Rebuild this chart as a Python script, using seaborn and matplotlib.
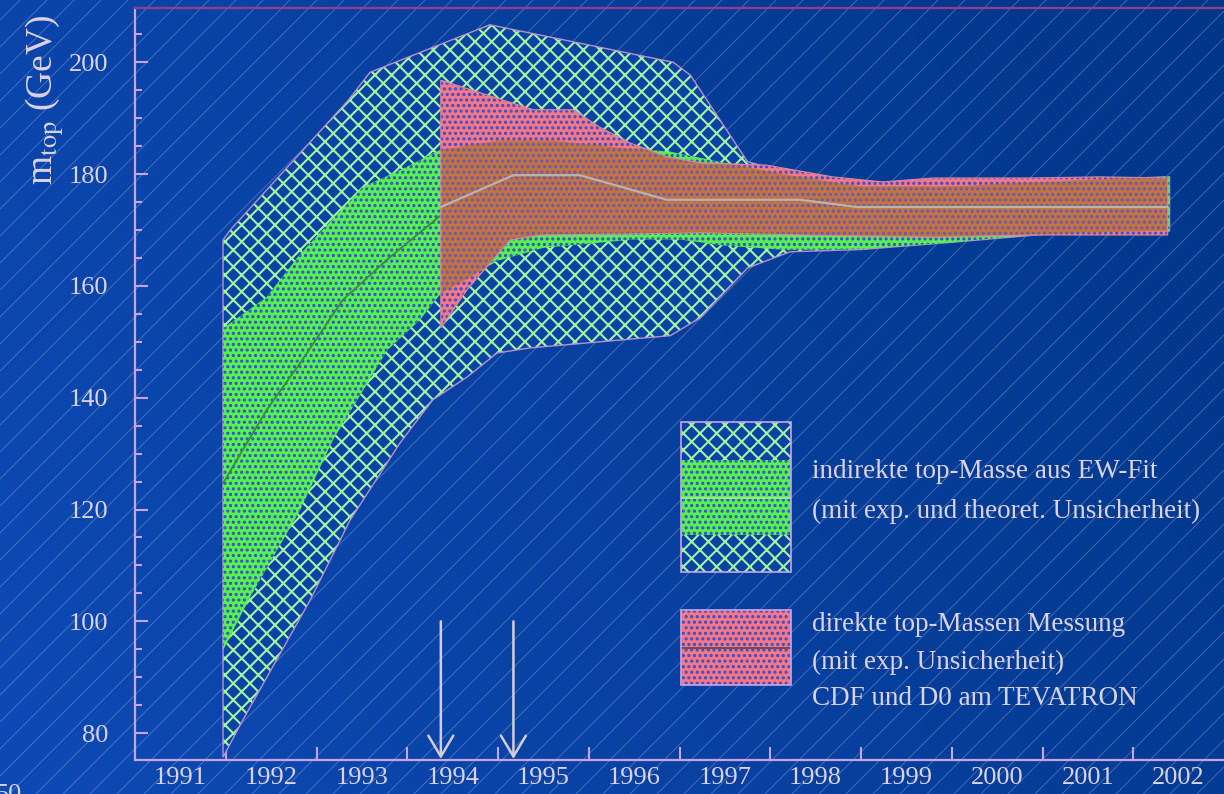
import matplotlib
matplotlib.use('Agg')
import matplotlib.pyplot as plt
from matplotlib.collections import LineCollection
from matplotlib.patches import Rectangle
from matplotlib.ticker import MultipleLocator
import seaborn as sns
import numpy as np

# ---------------- data ----------------
years = list(range(1991, 2003))

# indirect top mass from EW fit, exp + theory uncertainty (outer, cross-hatched)
ew_outer_up_x = [1991.97, 1992.05, 1993.35, 1993.59, 1994.91, 1996.93, 1997.12, 1997.75, 1998.5, 1999.5, 2000.5, 2001.5, 2002.4]
ew_outer_up_y = [168.2, 170.0, 193.2, 198.2, 206.7, 200.0, 197.7, 182.2, 179.0, 178.3, 178.5, 179.0, 179.5]
ew_outer_lo_x = [1991.97, 1992.19, 1992.93, 1993.37, 1993.92, 1994.28, 1994.66, 1994.99, 1995.35, 1996.90, 1997.23, 1997.75, 1998.22, 1999.0, 2000.0, 2001.0, 2002.4]
ew_outer_lo_y = [75.7, 82.4, 103.8, 118.1, 131.9, 139.6, 143.7, 148.0, 148.9, 151.1, 154.3, 163.2, 166.1, 166.5, 167.8, 169.2, 169.8]

# EW fit, exp. uncertainty only (inner, dense green)
ew_inner_up_x = [1991.97, 1992.45, 1992.82, 1993.51, 1993.92, 1994.36, 1995.0, 1995.6, 1996.3, 1996.9, 1997.5, 1998.2, 1999.0, 2000.0, 2001.0, 2002.4]
ew_inner_up_y = [152.4, 158.0, 165.7, 177.7, 180.7, 184.3, 186.0, 186.0, 184.8, 184.0, 182.0, 179.8, 177.8, 177.8, 178.6, 179.6]
ew_inner_lo_x = [1991.97, 1992.25, 1992.82, 1993.18, 1993.45, 1993.78, 1994.14, 1994.36, 1995.0, 1995.5, 1996.5, 1997.0, 1997.5, 1998.2, 1999.0, 2000.0, 2001.0, 2002.4]
ew_inner_lo_y = [94.8, 103.8, 119.9, 132.4, 139.6, 148.5, 153.9, 158.5, 164.5, 166.8, 168.3, 168.3, 167.2, 166.4, 166.6, 167.8, 169.3, 169.9]

ew_mid_x = [1991.97, 1992.45, 1992.82, 1993.29, 1993.8, 1994.36, 1995.5, 1996.5, 1997.5, 1998.5, 2000.0, 2002.4]
ew_mid_y = [124.7, 137.8, 146.2, 157.5, 165.0, 172.5, 176.5, 176.5, 175.5, 174.5, 174.3, 174.2]

# direct measurement CDF / D0
cdf_up_x = [1994.37, 1995.39, 1995.83, 1996.12, 1996.45, 1996.86, 1997.23, 1997.96, 1998.69, 1999.24, 1999.79, 2000.9, 2001.63, 2002.38]
cdf_up_y = [196.8, 191.5, 191.5, 188.4, 185.6, 183.1, 182.0, 181.6, 179.5, 178.6, 179.3, 179.3, 179.5, 179.3]
cdf_lo_x = [1994.37, 1994.66, 1995.13, 1995.46, 1996.5, 1997.23, 1998.33, 1999.79, 2000.9, 2002.38]
cdf_lo_y = [152.5, 159.3, 168.2, 169.1, 169.3, 169.5, 169.1, 168.7, 169.1, 169.1]
cdf_mid_x = [1994.37, 1995.17, 1995.9, 1996.86, 1997.23, 1998.33, 1998.96, 2002.38]
cdf_mid_y = [174.1, 179.8, 179.8, 175.4, 175.4, 175.4, 174.1, 174.1]

arrow_years = [1994.37, 1995.17]
arrow_top = 100

legend_lines = ['indirekte top-Masse aus EW-Fit', '(mit exp. und theoret. Unsicherheit)',
                'direkte top-Massen Messung', '(mit exp. Unsicherheit)', 'CDF und D0 am TEVATRON']

# ---------------- style ----------------
sns.set_theme(style='white')
plt.rcParams['font.family'] = ['Liberation Serif', 'DejaVu Serif']
plt.rcParams['mathtext.fontset'] = 'stix'
plt.rcParams['hatch.linewidth'] = 1.5

txt = '#dcd2e2'
lav = '#c8a4e6'
blue = '#0b42a6'
hatch_green = '#a4f2a0'
green = '#56f252'
pink = '#f47888'
orange = '#c27444'
dots = '#3a4cc4'

fig = plt.figure(figsize=(12.24, 7.94), dpi=100)

# slide background: gradient + thin diagonal lines
bg = fig.add_axes([0, 0, 1, 1], zorder=-5)
gx = np.linspace(0, 1, 256)
gy = np.linspace(0, 1, 128)
GX, GY = np.meshgrid(gx, gy)
c0 = np.array([0x0e, 0x4a, 0xb6]) / 255
c1 = np.array([0x00, 0x36, 0x88]) / 255
t = np.clip(0.75 * GX + 0.25 * (1 - GY), 0, 1)[..., None]
bg.imshow(c0 * (1 - t) + c1 * t, extent=[0, 1224, 0, 794], aspect='auto', origin='upper')
segs = [[(0, c), (1224, c + 1224)] for c in np.arange(-1224, 794, 27)]
bg.add_collection(LineCollection(segs, colors='#a8bde8', linewidths=0.6, alpha=0.42))
bg.set_xlim(0, 1224)
bg.set_ylim(0, 794)
bg.axis('off')

ax = fig.add_axes([135 / 1224, 34 / 794, 1089 / 1224, 752 / 794])
ax.set_facecolor('none')


def band(xu, yu, xl, yl, **kw):
    px = np.r_[xu, xl[::-1]]
    py = np.r_[yu, yl[::-1]]
    return ax.fill(px, py, **kw)[0]


band(ew_outer_up_x, ew_outer_up_y, ew_outer_lo_x, ew_outer_lo_y,
     facecolor=blue, edgecolor=hatch_green, hatch='xx', lw=0, zorder=2)
band(ew_outer_up_x, ew_outer_up_y, ew_outer_lo_x, ew_outer_lo_y,
     facecolor='none', edgecolor='#b890d0', lw=1.0, zorder=2.1)
band(ew_inner_up_x, ew_inner_up_y, ew_inner_lo_x, ew_inner_lo_y,
     facecolor=green, edgecolor=dots, hatch='...', lw=0, zorder=3)
sns.lineplot(x=ew_mid_x, y=ew_mid_y, ax=ax, color='#3a8a44', lw=1.3, sort=False, estimator=None, zorder=3.5)

red = band(cdf_up_x, cdf_up_y, cdf_lo_x, cdf_lo_y,
           facecolor=pink, edgecolor=dots, hatch='...', lw=0, zorder=4)
overlap = band(ew_inner_up_x, ew_inner_up_y, ew_inner_lo_x, ew_inner_lo_y,
               facecolor=orange, edgecolor='#6a58a8', hatch='...', lw=0, zorder=4.5)
overlap.set_clip_path(red)
band(cdf_up_x, cdf_up_y, cdf_lo_x, cdf_lo_y,
     facecolor='none', edgecolor='#d08aa8', lw=0.8, zorder=4.6)
sns.lineplot(x=cdf_mid_x, y=cdf_mid_y, ax=ax, color='#b8b4b0', lw=1.6, sort=False, estimator=None, zorder=5)

ax.set_xlim(1991, 2003)
ax.set_ylim(75.2, 209.7)

for xa in arrow_years:
    ax.annotate('', xy=(xa, 75.4), xytext=(xa, arrow_top),
                arrowprops=dict(arrowstyle='->,head_length=0.5,head_width=0.3', mutation_scale=30,
                                color='#d4ccd6', lw=1.8, shrinkA=0, shrinkB=0), zorder=6)

# axes / ticks
ax.set_axisbelow(True)
for s in ['left', 'bottom']:
    ax.spines[s].set_color(lav)
    ax.spines[s].set_linewidth(1.6)
ax.spines['top'].set_color('#9a3a8e')
ax.spines['top'].set_linewidth(1.6)
ax.spines['right'].set_visible(False)

ax.set_xticks([y + 0.5 for y in years])
ax.set_xticklabels([str(y) for y in years])
ax.set_xticks(years[1:], minor=True)
ax.set_yticks(range(80, 201, 20))
ax.yaxis.set_minor_locator(MultipleLocator(5))
ax.tick_params(axis='x', which='major', length=0, pad=5, labelsize=19, labelcolor=txt, bottom=True)
ax.tick_params(axis='x', which='minor', length=9.5, width=1.5, direction='in', color=lav, bottom=True)
ax.tick_params(axis='y', which='major', length=9.5, width=1.5, direction='in', color=lav,
               pad=19.5, labelsize=19, labelcolor=txt, left=True)
ax.tick_params(axis='y', which='minor', length=5, width=1.5, direction='in', color=lav, left=True)
ax.set_xlabel('')
ax.set_ylabel('')

fig.text(45 / 1224, 1 - 100 / 794, r'm$_{\mathrm{top}}$ (GeV)', rotation=90, fontsize=27,
         color=txt, ha='center', va='center')
fig.text(-0.004, 0.013, '50', fontsize=19, color=txt, ha='left', va='top')

# hand-made legend
tr = ax.transAxes
lx0, lw_ = 0.5014, 0.101
ax.add_patch(Rectangle((lx0, 0.25), lw_, 0.1995, transform=tr, facecolor=blue,
                       edgecolor=hatch_green, hatch='xx', lw=0, zorder=6))
ax.add_patch(Rectangle((lx0, 0.299), lw_, 0.100, transform=tr, facecolor=green,
                       edgecolor=dots, hatch='...', lw=0, zorder=6.1))
ax.plot([lx0, lx0 + lw_], [0.348, 0.348], transform=tr, color='#a8e8a0', lw=1.2, zorder=6.2)
ax.add_patch(Rectangle((lx0, 0.25), lw_, 0.1995, transform=tr, facecolor='none',
                       edgecolor=lav, lw=1.2, zorder=6.3))
ax.add_patch(Rectangle((lx0, 0.0997), lw_, 0.0998, transform=tr, facecolor=pink,
                       edgecolor=dots, hatch='...', lw=0, zorder=6))
ax.plot([lx0, lx0 + lw_], [0.149, 0.149], transform=tr, color='#6a5050', lw=1.4, zorder=6.2)
ax.add_patch(Rectangle((lx0, 0.0997), lw_, 0.0998, transform=tr, facecolor='none',
                       edgecolor=lav, lw=1.2, zorder=6.3))

for s, yy in zip(legend_lines, [0.383, 0.330, 0.180, 0.130, 0.082]):
    ax.text(0.6217, yy, s, transform=tr, fontsize=19.5, color=txt, ha='left', va='center', zorder=7)

fig.savefig('out.png', dpi=100)
